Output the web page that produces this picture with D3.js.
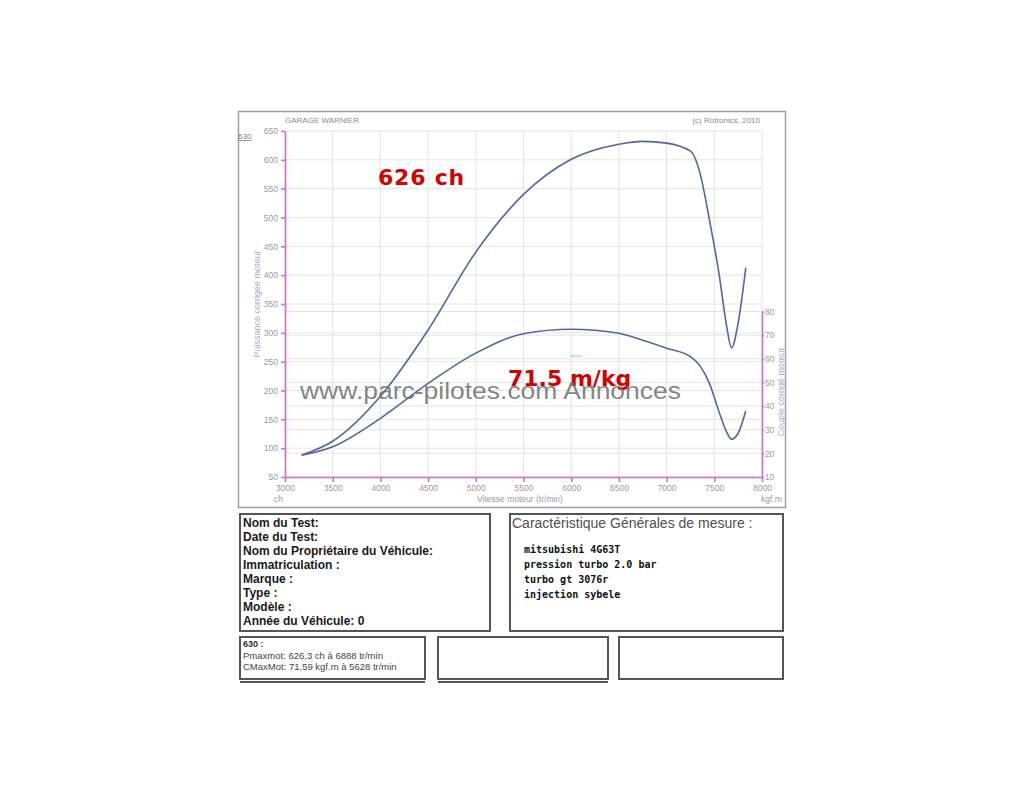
<!DOCTYPE html>
<html><head><meta charset="utf-8">
<script src="https://cdn.jsdelivr.net/npm/d3@7"></script>
<style>body{margin:0;background:#fff}svg{display:block}</style>
</head><body>
<svg id="c" width="1024" height="800"></svg>
<script>
// ---- data ----
const rpm    = [3175, 3500, 4000, 4500, 5000, 5500, 6000, 6500, 6750, 7000, 7250, 7350, 7450, 7550, 7630, 7680, 7750, 7830];
const power  = [88, 112, 190, 305, 440, 540, 601, 627, 632, 629, 615, 577, 495, 402, 311, 274, 317, 413];
const torque = [19.2, 22.8, 34.8, 49.6, 62.4, 70.6, 72.5, 70.8, 67.8, 64.5, 60.9, 57, 49.5, 37.5, 29, 26, 28.5, 38];
const xTicks = [3000, 3500, 4000, 4500, 5000, 5500, 6000, 6500, 7000, 7500, 8000];
const powerTicks = [50, 100, 150, 200, 250, 300, 350, 400, 450, 500, 550, 600, 650];
const torqueTicks = [10, 20, 30, 40, 50, 60, 70, 80];
const infoLabels = ["Nom du Test:", "Date du Test:", "Nom du Propriétaire du Véhicule:", "Immatriculation  :", "Marque  :", "Type  :", "Modèle  :", "Année du Véhicule: 0"];
const specLines = ["mitsubishi 4G63T", "pression turbo 2.0 bar", "turbo gt 3076r", "injection sybele"];
const summaryLines = ["Pmaxmot: 626,3 ch à 6888 tr/min", "CMaxMot: 71,59 kgf.m à 5628 tr/min"];

const svg = d3.select("#c");
const F = "'Liberation Sans', Arial, sans-serif";
const pink = "#d36fc4", grid = "#e4e4e4", lab = "#9a9a9a", curveCol = "#5a62a6";

const L = 285, R = 762, T = 131, B = 477;
const x = d3.scaleLinear().domain([3000, 8000]).range([L, R]);
const yP = d3.scaleLinear().domain([50, 650]).range([B, T]);
const yT = d3.scaleLinear().domain([10, 80]).range([B, 311.5]);

// outer frame
svg.append("rect").attr("x", 238.5).attr("y", 111.5).attr("width", 547).attr("height", 396)
  .attr("fill", "#fff").attr("stroke", "#9aa0ad").attr("stroke-width", 1.5);

svg.append("text").attr("x", 285).attr("y", 123).attr("font-family", F).attr("font-size", 8).attr("fill", "#8a8a8a").text("GARAGE WARNIER");
svg.append("text").attr("x", 760).attr("y", 123).attr("text-anchor", "end").attr("font-family", F).attr("font-size", 8).attr("fill", "#8a8a8a").text("(c) Rotronics, 2010");
svg.append("text").attr("x", 238).attr("y", 139).attr("font-family", F).attr("font-size", 8).attr("fill", "#7a7a8a").attr("text-decoration", "underline").text("630");

// grid
const g = svg.append("g");
g.selectAll("line.gx").data(xTicks).join("line").attr("x1", d => x(d)).attr("x2", d => x(d)).attr("y1", T).attr("y2", B).attr("stroke", grid);
g.selectAll("line.gp").data(powerTicks).join("line").attr("x1", L).attr("x2", R).attr("y1", d => yP(d)).attr("y2", d => yP(d)).attr("stroke", grid);
g.selectAll("line.gt").data(torqueTicks).join("line").attr("x1", L).attr("x2", R).attr("y1", d => yT(d)).attr("y2", d => yT(d)).attr("stroke", grid);

// axes
function styleAxis(sel) {
  sel.selectAll("path,line").attr("stroke", pink).attr("stroke-width", 1.6);
  sel.selectAll("text").attr("fill", lab).attr("font-family", F).attr("font-size", 8.5);
}
svg.append("g").attr("transform", `translate(${L},0)`).call(d3.axisLeft(yP).tickValues(powerTicks).tickSize(4).tickSizeOuter(0).tickPadding(3)).call(styleAxis);
svg.append("g").attr("transform", `translate(${R},0)`).call(d3.axisRight(yT).tickValues(torqueTicks).tickSize(2).tickSizeOuter(0).tickPadding(1)).call(styleAxis);
svg.append("g").attr("transform", `translate(0,${B})`).call(d3.axisBottom(x).tickValues(xTicks).tickFormat(d3.format("d")).tickSize(5).tickSizeOuter(0).tickPadding(3)).call(styleAxis);

svg.append("text").attr("x", 274).attr("y", 502).attr("font-family", F).attr("font-size", 8.5).attr("fill", lab).text("ch");
svg.append("text").attr("x", 761).attr("y", 502).attr("font-family", F).attr("font-size", 8.5).attr("fill", lab).text("kgf.m");
svg.append("text").attr("x", 520).attr("y", 502).attr("text-anchor", "middle").attr("font-family", F).attr("font-size", 8.5).attr("fill", lab).text("Vitesse moteur (tr/min)");
svg.append("text").attr("transform", "translate(260,304) rotate(-90)").attr("text-anchor", "middle").attr("font-family", F).attr("font-size", 9).attr("fill", "#b0a8c8").text("Puissance corrigée moteur");
svg.append("text").attr("transform", "translate(783.5,392) rotate(-90)").attr("text-anchor", "middle").attr("font-family", F).attr("font-size", 9).attr("fill", "#b0a8c8").text("Couple corrigé moteur");

// curves
const pts = rpm.map((r, i) => ({r, p: power[i], t: torque[i]}));
svg.append("path").datum(pts).attr("fill", "none").attr("stroke", curveCol).attr("stroke-width", 1.6)
  .attr("d", d3.line().x(d => x(d.r)).y(d => yP(d.p)).curve(d3.curveMonotoneX));
svg.append("path").datum(pts).attr("fill", "none").attr("stroke", curveCol).attr("stroke-width", 1.6)
  .attr("d", d3.line().x(d => x(d.r)).y(d => yT(d.t)).curve(d3.curveMonotoneX));
svg.append("line").attr("x1", 570).attr("x2", 582).attr("y1", 356).attr("y2", 356).attr("stroke", "#7fd0e0").attr("stroke-width", 1);

// annotations
svg.append("text").attr("x", 378).attr("y", 185).attr("font-family", "'DejaVu Sans', sans-serif").attr("font-weight", "bold").attr("font-size", 22).attr("letter-spacing", 0.8).attr("fill", "#d40000").text("626 ch");
svg.append("text").attr("x", 508).attr("y", 386).attr("font-family", "'DejaVu Sans', sans-serif").attr("font-weight", "bold").attr("font-size", 22).attr("fill", "#d40000").text("71.5 m/kg");
svg.append("text").attr("x", 300).attr("y", 399).attr("font-family", F).attr("font-size", 24).attr("fill", "#6e6e6e").attr("fill-opacity", 0.85)
  .attr("textLength", 381).attr("lengthAdjust", "spacingAndGlyphs").text("www.parc-pilotes.com Annonces");

// lower boxes
const boxStroke = "#555";
function box(x0, y0, w, h) {
  svg.append("rect").attr("x", x0).attr("y", y0).attr("width", w).attr("height", h).attr("fill", "#fff").attr("stroke", boxStroke).attr("stroke-width", 2);
}
box(240, 514, 250, 117);
box(510, 514, 273, 117);
box(240, 637, 185, 42);
box(438, 637, 170, 42);
box(619, 637, 164, 42);
[[240, 425], [438, 608]].forEach(([a, b]) => svg.append("line").attr("x1", a).attr("x2", b).attr("y1", 682).attr("y2", 682).attr("stroke", boxStroke).attr("stroke-width", 2));

svg.append("g").selectAll("text").data(infoLabels).join("text")
  .attr("x", 243).attr("y", (d, i) => 527 + i * 14).attr("font-family", F).attr("font-weight", "bold").attr("font-size", 12).attr("fill", "#1a1a1a").text(d => d);
svg.append("text").attr("x", 512).attr("y", 528).attr("font-family", F).attr("font-size", 14).attr("fill", "#505050").text("Caractéristique Générales de mesure :");
svg.append("g").selectAll("text").data(specLines).join("text")
  .attr("x", 524).attr("y", (d, i) => 553 + i * 15).attr("font-family", "'DejaVu Sans Mono', monospace").attr("font-weight", "bold").attr("font-size", 10).attr("fill", "#111").text(d => d);
svg.append("text").attr("x", 243).attr("y", 647).attr("font-family", F).attr("font-weight", "bold").attr("font-size", 9).attr("fill", "#333").text("630 :");
svg.append("g").selectAll("text").data(summaryLines).join("text")
  .attr("x", 243).attr("y", (d, i) => 659 + i * 11).attr("font-family", F).attr("font-size", 9.5).attr("fill", "#444").text(d => d);
</script>
</body></html>
